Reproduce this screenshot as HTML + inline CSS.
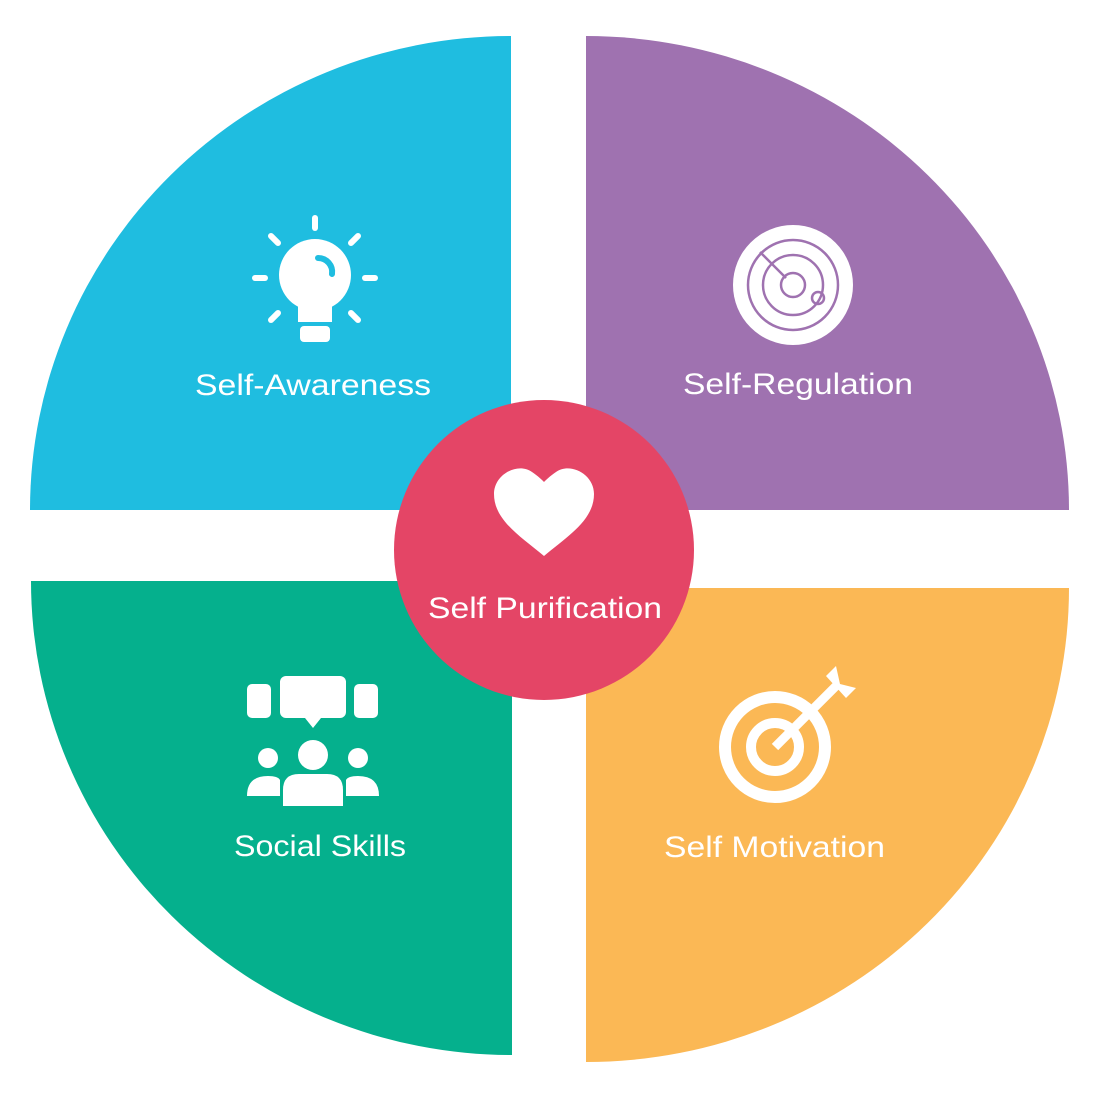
<!DOCTYPE html>
<html><head><meta charset="utf-8"><style>
html,body{margin:0;padding:0;background:#fff}
svg{display:block}
text{font-family:"Liberation Sans",sans-serif;fill:#fff;font-size:30px}
</style></head><body>
<svg width="1099" height="1098" viewBox="0 0 1099 1098" xmlns="http://www.w3.org/2000/svg">
<path d="M511,510 L30,510 A481,474 0 0 1 511,36 Z" fill="#1fbde0"/>
<path d="M586,510 L586,36 A483,474 0 0 1 1069,510 Z" fill="#9f72b0"/>
<path d="M512,581 L512,1055 A481,474 0 0 1 31,581 Z" fill="#05b08d"/>
<path d="M586,588 L1069,588 A483,474 0 0 1 586,1062 Z" fill="#fbb855"/>
<circle cx="544" cy="550" r="150" fill="#e44566"/>
<path d="M544,556 C520,536 494,520 494,494 C494,474 518,462 532,472 C538,476 542,480 544,482 C546,480 550,476 556,472 C570,462 594,474 594,494 C594,520 568,536 544,556 Z" fill="#fff"/>
<text x="428" y="618" textLength="234" lengthAdjust="spacingAndGlyphs">Self Purification</text>
<g fill="#fff" stroke="#fff" stroke-linecap="round">
<circle cx="315" cy="275" r="36" stroke="none"/>
<rect x="298" y="300" width="34" height="22" stroke="none"/>
<rect x="300" y="326" width="30" height="16" rx="4" stroke="none"/>
<g stroke-width="6">
<line x1="315" y1="218" x2="315" y2="228"/>
<line x1="271" y1="236" x2="278" y2="243"/>
<line x1="358" y1="236" x2="351" y2="243"/>
<line x1="255" y1="278" x2="265" y2="278"/>
<line x1="365" y1="278" x2="375" y2="278"/>
<line x1="271" y1="320" x2="278" y2="313"/>
<line x1="358" y1="320" x2="351" y2="313"/>
</g></g>
<path d="M318,258 A14,14 0 0 1 332,274" stroke="#1fbde0" stroke-width="6" fill="none" stroke-linecap="round"/>
<text x="195" y="395" textLength="236" lengthAdjust="spacingAndGlyphs">Self-Awareness</text>
<circle cx="793" cy="285" r="60" fill="#fff"/>
<g stroke="#9f72b0" stroke-width="2.5" fill="none">
<circle cx="793" cy="285" r="45"/><circle cx="793" cy="285" r="30"/><circle cx="793" cy="285" r="12"/>
<line x1="760" y1="252" x2="786" y2="278"/><circle cx="818" cy="298" r="6"/>
</g>
<text x="683" y="394" textLength="230" lengthAdjust="spacingAndGlyphs">Self-Regulation</text>
<g fill="#fff">
<rect x="280" y="676" width="66" height="42" rx="6"/><polygon points="305,718 321,718 313,728"/>
<rect x="247" y="684" width="24" height="34" rx="5"/><rect x="354" y="684" width="24" height="34" rx="5"/>
<circle cx="313" cy="755" r="15"/><path d="M283,806 L283,790 Q283,774 299,774 L327,774 Q343,774 343,790 L343,806 Z"/>
<circle cx="268" cy="758" r="10"/><path d="M247,796 Q247,776 268,776 Q278,776 280,780 L280,796 Z"/>
<circle cx="358" cy="758" r="10"/><path d="M379,796 Q379,776 358,776 Q348,776 346,780 L346,796 Z"/>
</g>
<text x="234" y="856" textLength="172" lengthAdjust="spacingAndGlyphs">Social Skills</text>
<g fill="none" stroke="#fff">
<circle cx="775" cy="747" r="50" stroke-width="12"/>
<circle cx="775" cy="747" r="24" stroke-width="10"/>
<line x1="775" y1="747" x2="838" y2="684" stroke-width="9"/>
</g>
<path d="M826,676 L836,666 L840,684 L856,688 L846,698 Z" fill="#fff"/>
<text x="664" y="857" textLength="221" lengthAdjust="spacingAndGlyphs">Self Motivation</text>
</svg>
</body></html>
